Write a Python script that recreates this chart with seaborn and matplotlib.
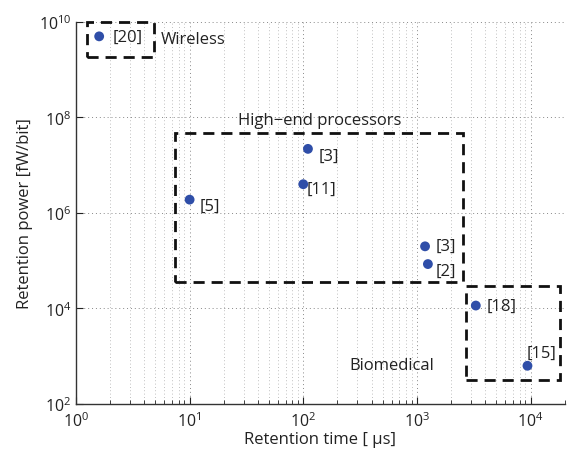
import matplotlib
matplotlib.use("Agg")
import matplotlib.pyplot as plt
import seaborn as sns
import pandas as pd
from matplotlib.patches import Rectangle
from matplotlib.ticker import LogLocator, NullFormatter, NullLocator

# data
refs = ["[20]", "[5]", "[3]", "[11]", "[3]", "[2]", "[18]", "[15]"]
retention_time = [1.6, 10, 110, 100, 1180, 1250, 3300, 9400]
retention_power = [5.0e9, 1.9e6, 2.2e7, 4.0e6, 2.0e5, 8.5e4, 1.15e4, 630]
groups = ["Wireless", "High\u2212end processors", "Biomedical"]
box_x = [(1.25, 4.9), (7.4, 2550), (2700, 1.8e4)]
box_y = [(1.85e9, 1.0e10), (3.5e4, 4.7e7), (316, 2.9e4)]

df = pd.DataFrame({"t": retention_time, "p": retention_power, "ref": refs})

sns.set_style("white")
plt.rcParams['font.family'] = ['Open Sans', 'DejaVu Sans']

fig = plt.figure(figsize=(5.67, 4.56), dpi=100)
ax = fig.add_axes([0.134, 0.112, 0.862, 0.8376])

sns.scatterplot(data=df, x="t", y="p", ax=ax, color="#2f4ea8", s=50,
                edgecolor="none", zorder=5)
ax.set_xscale("log")
ax.set_yscale("log")
ax.set_xlim(1, 2e4)
ax.set_ylim(1e2, 1e10)

ax.xaxis.set_major_locator(LogLocator(base=10, numticks=10))
ax.yaxis.set_major_locator(LogLocator(base=100, numticks=10))
ax.xaxis.set_minor_locator(LogLocator(base=10, subs=range(2, 10), numticks=20))
ax.yaxis.set_minor_locator(NullLocator())
ax.xaxis.set_minor_formatter(NullFormatter())

ax.grid(True, which="major", linestyle=(0, (1, 3)), color="#888888", linewidth=0.7)
ax.grid(True, which="minor", axis="x", linestyle=(0, (1, 3)), color="#aaaaaa", linewidth=0.6)
ax.tick_params(which="both", direction="in", bottom=True, left=True,
               labelsize=11.5, colors="#222222")
ax.tick_params(which="major", length=5)
ax.tick_params(which="minor", length=3)
ax.tick_params(axis="x", pad=5)
for s in ["top", "right"]:
    ax.spines[s].set_visible(False)
for s in ["left", "bottom"]:
    ax.spines[s].set_color("#333333")
    ax.spines[s].set_linewidth(1.0)

ax.set_xlabel("Retention time [ \u03bcs]", fontsize=12, labelpad=1, color="#222222")
ax.set_ylabel("Retention power [fW/bit]", fontsize=12, labelpad=4, color="#222222")

# point labels
offsets = [(1.32, 1.0), (1.22, 0.75), (1.25, 0.72), (1.08, 0.8), (1.25, 1.0),
           (1.18, 0.72), (1.25, 0.97), (0.98, 1.9)]
for t, p, r, (fx, fy) in zip(retention_time, retention_power, refs, offsets):
    ax.text(t * fx, p * fy, r, fontsize=12, va="center", ha="left", color="#222222")

# group boxes
for (x0, x1), (y0, y1) in zip(box_x, box_y):
    ax.add_patch(Rectangle((x0, y0), x1 - x0, y1 - y0, fill=False,
                           linestyle=(0, (4, 2.5)), linewidth=2.0,
                           edgecolor="#111111", zorder=4, clip_on=False))

ax.text(5.6, 4.3e9, groups[0], fontsize=12, va="center", ha="left", color="#222222")
ax.text(140, 9.0e7, groups[1], fontsize=12, va="center", ha="center", color="#222222")
ax.text(255, 650, groups[2], fontsize=12, va="center", ha="left", color="#222222")

fig.savefig("out.png", dpi=100)
